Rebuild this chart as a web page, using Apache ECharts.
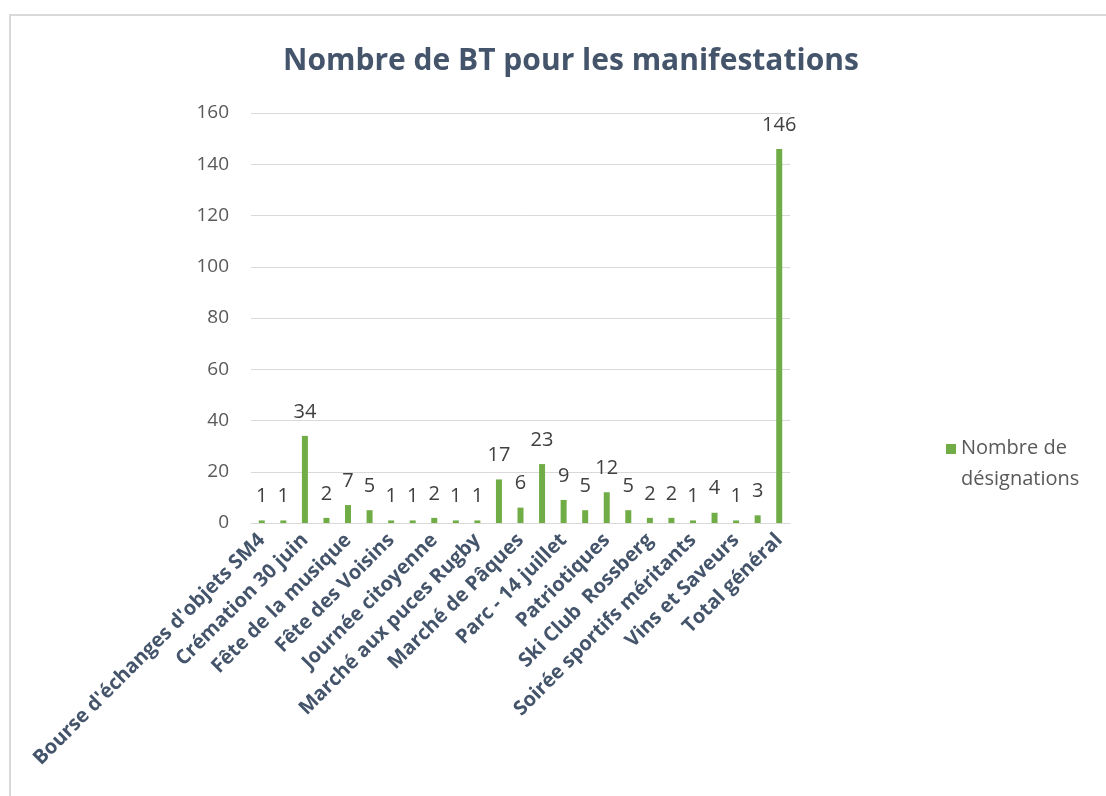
<!DOCTYPE html>
<html>
<head>
<meta charset="utf-8">
<script src="https://cdn.jsdelivr.net/npm/echarts@6/dist/echarts.min.js"></script>
<style>
  html, body { margin: 0; padding: 0; background: #fff; }
  #chart { width: 1106px; height: 796px; }
</style>
</head>
<body>
<div id="chart"></div>
<script>
// categories (only every other one is labelled on the axis)
var categories = [
  "Bourse d'échanges d'objets SM4", "Concert de printemps",
  "Crémation 30 juin", "Exposition de peinture",
  "Fête de la musique", "Fête des aînés",
  "Fête des Voisins", "Forum des associations",
  "Journée citoyenne", "Kermesse",
  "Marché aux puces Rugby", "Marché de Noël",
  "Marché de Pâques", "Messti",
  "Parc - 14 juillet", "Parc - Concert",
  "Patriotiques", "Salon du livre",
  "Ski Club  Rossberg", "Soirée dansante",
  "Soirée sportifs méritants", "Téléthon",
  "Vins et Saveurs", "Vœux du maire",
  "Total général"
];
var designations = [1, 1, 34, 2, 7, 5, 1, 1, 2, 1, 1, 17, 6, 23, 9, 5, 12, 5, 2, 2, 1, 4, 1, 3, 146];
var seriesName = 'Nombre de\ndésignations';

var myChart = echarts.init(document.getElementById('chart'));

var option = {
  animation: false,
  textStyle: { fontFamily: 'Open Sans' },
  title: {
    text: 'Nombre de BT pour les manifestations',
    left: 278,
    top: 41,
    textStyle: { fontSize: 30, fontWeight: 'bold', color: '#44546a', fontFamily: 'Open Sans' }
  },
  graphic: [{
    type: 'rect',
    shape: { x: 10, y: 15, width: 1200, height: 900 },
    style: { fill: 'none', stroke: '#d9d9d9', lineWidth: 2 },
    silent: true
  }],
  legend: {
    left: 941,
    top: 428,
    orient: 'vertical',
    itemWidth: 10,
    itemHeight: 40,
    itemGap: 6,
    icon: 'path://M0,0L10,0L10,10L0,10Z M0,40L10,40',
    textStyle: { fontSize: 20, color: '#595959', lineHeight: 31 },
    data: [seriesName]
  },
  grid: { left: 251, right: 316, top: 113, bottom: 273 },
  xAxis: {
    type: 'category',
    data: categories,
    axisLine: { lineStyle: { color: '#d9d9d9', width: 1 } },
    axisTick: { show: false },
    axisLabel: {
      interval: 1,
      rotate: 45,
      fontSize: 20,
      fontWeight: 'bold',
      color: '#44546a',
      margin: 14
    }
  },
  yAxis: {
    type: 'value',
    min: 0,
    max: 160,
    interval: 20,
    axisLine: { show: false },
    axisTick: { show: false },
    splitLine: { lineStyle: { color: '#d9d9d9', width: 1 } },
    axisLabel: { fontSize: 19, color: '#595959', margin: 22 }
  },
  series: [{
    name: seriesName,
    type: 'bar',
    data: designations,
    barWidth: 6,
    itemStyle: { color: '#70ad47' },
    label: {
      show: true,
      position: 'top',
      distance: 14,
      fontSize: 20,
      color: '#404040'
    }
  }]
};

myChart.setOption(option);
</script>
</body>
</html>
